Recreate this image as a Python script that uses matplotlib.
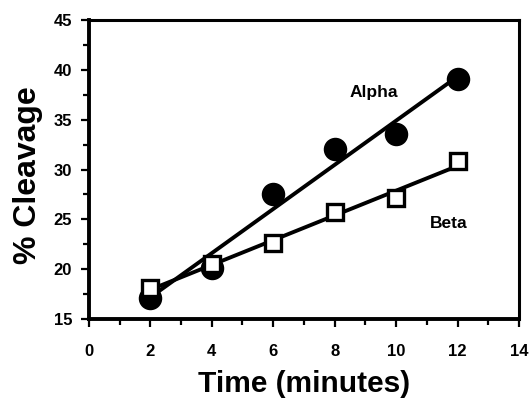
"""
plot.py - cleavage over time for the Alpha and Beta forms, with linear fits.
"""

import matplotlib
matplotlib.use("Agg")
import matplotlib.pyplot as plt
import matplotlib.ticker as mticker
import numpy as np

plt.rcParams["font.family"] = ["Liberation Sans", "DejaVu Sans"]
plt.rcParams["font.weight"] = "bold"

# data

time_min = [2, 4, 6, 8, 10, 12]
alpha_pct = [17.1, 20.1, 27.5, 32.1, 33.6, 39.1]
beta_pct = [18.1, 20.5, 22.6, 25.7, 27.1, 30.9]

x_ticks = [0, 2, 4, 6, 8, 10, 12, 14]
y_ticks = [15, 20, 25, 30, 35, 40, 45]


def fit_line(x, y):
    slope, icpt = np.polyfit(x, y, 1)
    xs = np.array([min(x), max(x)])
    return xs, slope * xs + icpt


fig = plt.figure(figsize=(5.29, 4.0), dpi=100)
ax = fig.add_axes([0.168, 0.2025, 0.813, 0.7475])

for ys, marker, face in [(alpha_pct, "o", "black"), (beta_pct, "s", "white")]:
    fx, fy = fit_line(time_min, ys)
    ax.plot(fx, fy, color="black", linewidth=2.8, zorder=2)
    ms = 14.5 if marker == "o" else 11
    ax.plot(time_min, ys, linestyle="none", marker=marker, markersize=ms,
            markerfacecolor=face, markeredgecolor="black", markeredgewidth=2.4,
            zorder=3)

ax.text(8.5, 37.7, "Alpha", fontsize=12.5, fontweight="bold", ha="left", va="center")
ax.text(11.1, 24.6, "Beta", fontsize=12.5, fontweight="bold", ha="left", va="center")

ax.set_xlim(0, 14)
ax.set_ylim(15, 45)
ax.set_xticks(x_ticks)
ax.set_yticks(y_ticks)
ax.xaxis.set_minor_locator(mticker.MultipleLocator(1))
ax.yaxis.set_minor_locator(mticker.MultipleLocator(2.5))
ax.tick_params(which="both", direction="out", width=1.6, top=False, right=False,
               labelsize=12)
ax.tick_params(which="major", length=6)
ax.tick_params(which="minor", length=4)
ax.tick_params(axis="x", which="major", pad=12)
ax.tick_params(axis="y", which="major", pad=6)
for lbl in ax.get_xticklabels() + ax.get_yticklabels():
    lbl.set_fontweight("bold")

for side in ["left", "bottom"]:
    ax.spines[side].set_linewidth(2.8)
for side in ["top", "right"]:
    ax.spines[side].set_linewidth(2.2)

ax.set_xlabel("Time (minutes)", fontsize=21.5, fontweight="bold", labelpad=8)
ax.set_ylabel("% Cleavage", fontsize=23, fontweight="bold", labelpad=8)
ax.yaxis.set_label_coords(-0.107, 0.48)

fig.savefig("out.png", dpi=100)
